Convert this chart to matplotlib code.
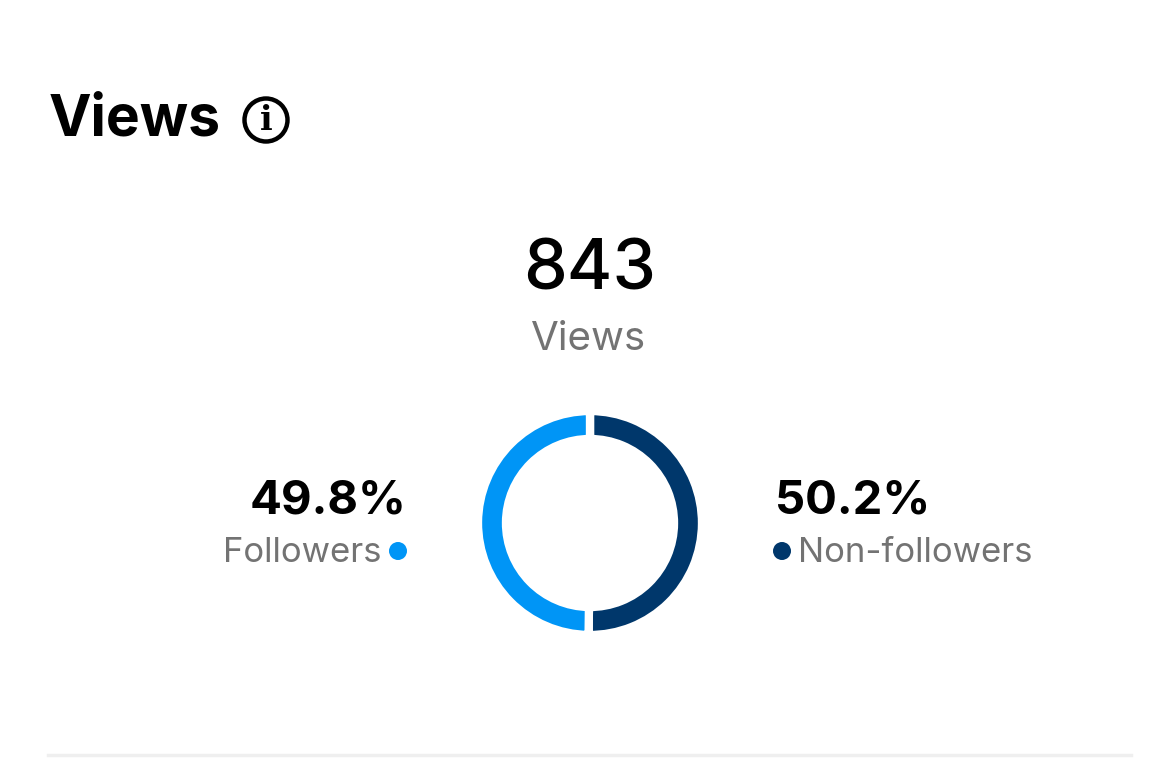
import matplotlib
matplotlib.use('Agg')
import matplotlib.pyplot as plt
from matplotlib.patches import Circle

title = 'Views'
total = '843'
total_label = 'Views'
labels = ['Non-followers', 'Followers']
values = [50.2, 49.8]
colors = ['#00376b', '#0095f6']
W, H = 1161, 782

plt.rcParams['font.family'] = ['Inter', 'Roboto', 'DejaVu Sans']

fig = plt.figure(figsize=(W/100, H/100), dpi=100, facecolor='white')

# overlay in pixel coordinates, y downward
ax = fig.add_axes([0, 0, 1, 1])
ax.set_xlim(0, W)
ax.set_ylim(H, 0)
ax.axis('off')

ax.text(49, 121, title, fontsize=41, fontweight='bold', va='center', ha='left', color='black')
ax.add_patch(Circle((266, 120), 21.5, fill=False, ec='black', lw=3.2))
ax.text(266, 121, 'i', fontsize=24, fontweight='bold', va='center', ha='center', family='DejaVu Serif')

ax.text(590, 271, total, fontsize=50, fontweight='medium', va='center', ha='center', color='black')
ax.text(589, 339, total_label, fontsize=29, va='center', ha='center', color='#737373')

ax.text(406, 502, '%.1f%%' % values[1], fontsize=34, fontweight='bold', va='center', ha='right', color='black')
ax.text(381, 553, labels[1], fontsize=25, va='center', ha='right', color='#737373')
ax.add_patch(Circle((398, 551), 9, fc=colors[1], ec='none'))

ax.text(775, 502, '%.1f%%' % values[0], fontsize=34, fontweight='bold', va='center', ha='left', color='black')
ax.text(798, 553, labels[0], fontsize=25, va='center', ha='left', color='#737373')
ax.add_patch(Circle((782, 551), 9, fc=colors[0], ec='none'))

ax.plot([48, 1131], [755, 755], color='#efefef', lw=2.5)

# donut, square axes centred on (590, 523)
d = 224
ax2 = fig.add_axes([(590-d/2)/W, 1-(523+d/2)/H, d/W, d/H])
ax2.pie(values, colors=colors, startangle=90, counterclock=False, radius=1.0,
        wedgeprops=dict(width=0.25, edgecolor='white', linewidth=6))
ax2.set_xlim(-1, 1)
ax2.set_ylim(-1, 1)

fig.savefig('out.png', dpi=100)
